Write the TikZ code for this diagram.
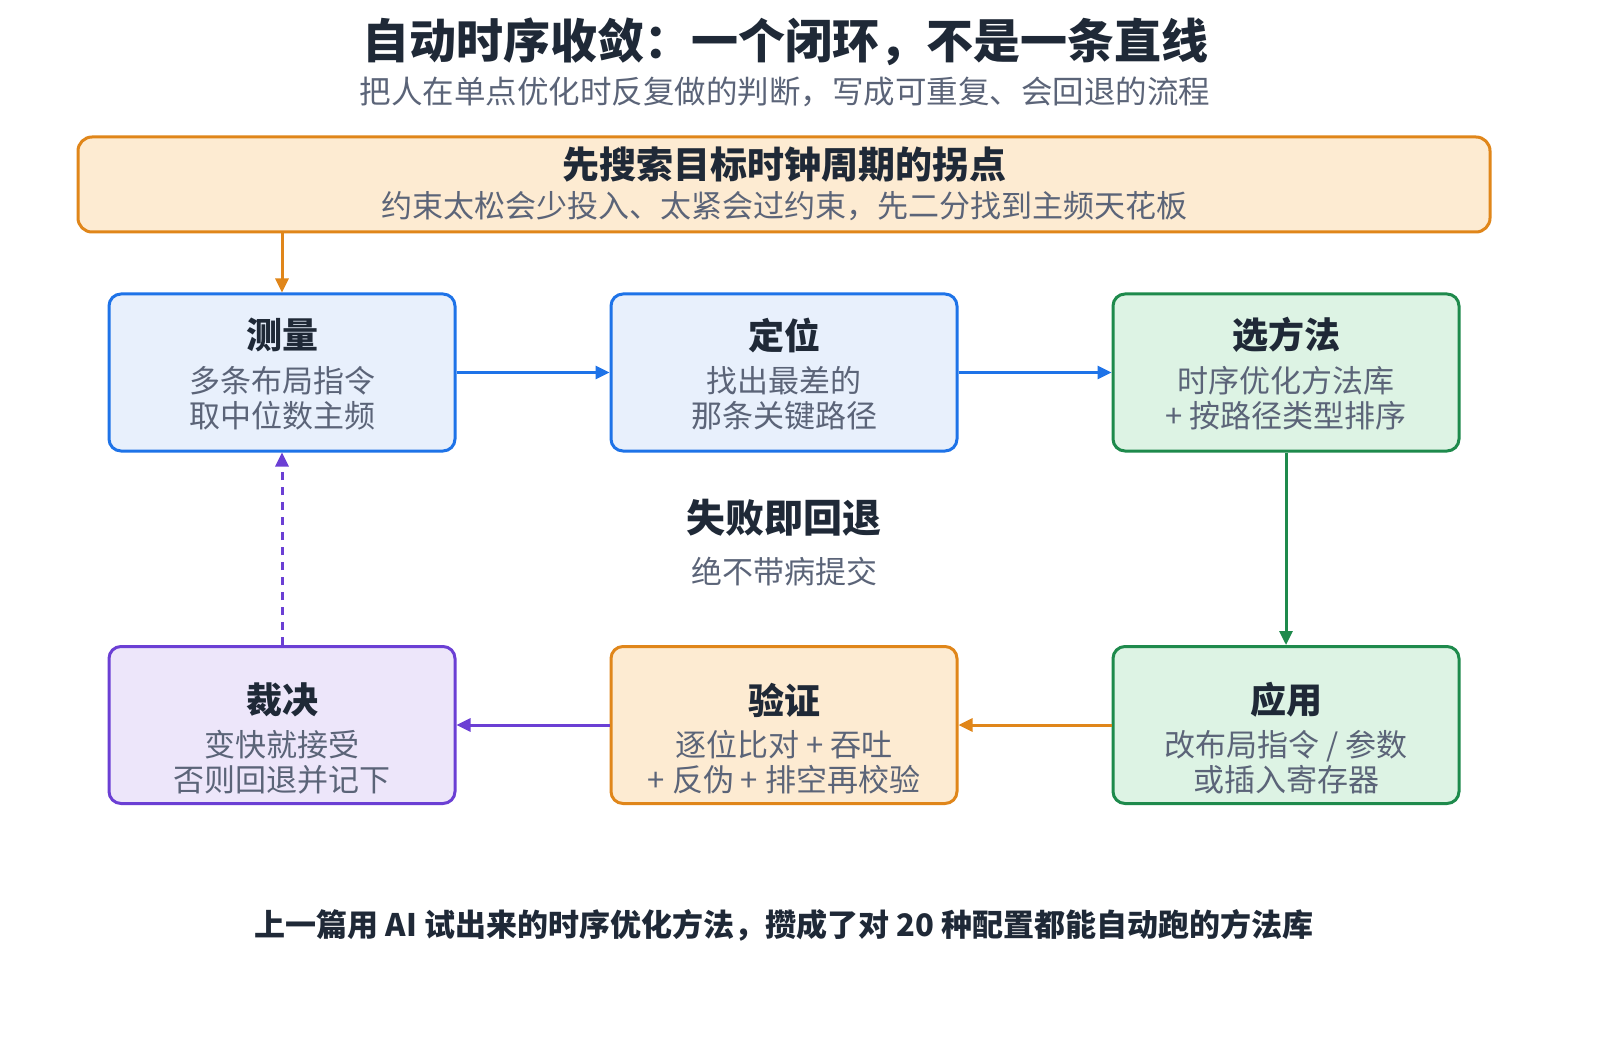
\documentclass[tikz,border=0pt]{standalone}
\usepackage{fontspec}
\setmainfont{Noto Sans CJK SC}
\usetikzlibrary{arrows.meta}
\definecolor{ink}{HTML}{1F2937}
\definecolor{sub}{HTML}{5B6478}
\definecolor{bB}{HTML}{1E73E8}\definecolor{fB}{HTML}{E8F0FC}
\definecolor{bG}{HTML}{1E8A4C}\definecolor{fG}{HTML}{DDF3E4}
\definecolor{bO}{HTML}{E0861A}\definecolor{fO}{HTML}{FDEBD2}
\definecolor{bP}{HTML}{6B3FD4}\definecolor{fP}{HTML}{EDE6FA}
\begin{document}
\begin{tikzpicture}[x=1pt,y=-1pt,
 box/.style={draw=#1,line width=3pt,rounded corners=12pt,minimum width=346pt,minimum height=157pt,inner sep=0pt},
 ttl/.style={text=ink,font=\fontsize{36}{40}\selectfont\bfseries,inner sep=0pt},
 dsc/.style={text=sub,font=\fontsize{31}{35}\selectfont,align=center,inner sep=0pt},
 arr/.style={draw=#1,line width=3pt,-{Triangle[length=14pt,width=13pt]}}]
\useasboundingbox[fill=white] (0,0) rectangle (1600,1040);
\node[text=ink,font=\fontsize{47}{50}\selectfont\bfseries] (title) at (785,42) {自动时序收敛：一个闭环，不是一条直线};
\node[text=sub,font=\fontsize{31.5}{36}\selectfont] (subt) at (785,92) {把人在单点优化时反复做的判断，写成可重复、会回退的流程};
\node[draw=bO,fill=fO,line width=3pt,rounded corners=14pt,minimum width=1412pt,minimum height=95pt] (top) at (784,184.5) {};
\node[ttl,font=\fontsize{37}{40}\selectfont\bfseries] (topt) at (784,165) {先搜索目标时钟周期的拐点};
\node[dsc] (topd) at (784,206) {约束太松会少投入、太紧会过约束，先二分找到主频天花板};
% row 1
\node[box=bB,fill=fB] (m) at (282,372.5) {};
\node[ttl] at (282,335) {测量};
\node[dsc] at (282,398) {多条布局指令\\取中位数主频};
\node[box=bB,fill=fB] (d) at (784,372.5) {};
\node[ttl] at (784,335) {定位};
\node[dsc] at (784,398) {找出最差的\\那条关键路径};
\node[box=bG,fill=fG] (s) at (1286,372.5) {};
\node[ttl] at (1286,335) {选方法};
\node[dsc] at (1286,398) {时序优化方法库\\+ 按路径类型排序};
% row 2
\node[box=bP,fill=fP] (c) at (282,725) {};
\node[ttl] at (282,700) {裁决};
\node[dsc] at (282,762) {变快就接受\\否则回退并记下};
\node[box=bO,fill=fO] (v) at (784,725) {};
\node[ttl] at (784,700) {验证};
\node[dsc] at (784,762) {逐位比对 + 吞吐\\+ 反伪 + 排空再校验};
\node[box=bG,fill=fG] (a) at (1286,725) {};
\node[ttl] at (1286,700) {应用};
\node[dsc] at (1286,762) {改布局指令 / 参数\\或插入寄存器};
% center
\node[ttl,font=\fontsize{39}{42}\selectfont\bfseries] (fail) at (784,518) {失败即回退};
\node[dsc] (fail2) at (784,572) {绝不带病提交};
% arrows
\draw[arr=bO] (top.south -| m) -- (m.north);
\draw[arr=bB] (m) -- (d);
\draw[arr=bB] (d) -- (s);
\draw[arr=bG] (s) -- (a);
\draw[arr=bO] (a) -- (v);
\draw[arr=bP] (v) -- (c);
\draw[arr=bP,dash pattern=on 8pt off 7pt] (c) -- (m);
\node[text=ink,font=\fontsize{31}{34}\selectfont\bfseries] (foot) at (784,925) {上一篇用 AI 试出来的时序优化方法，攒成了对 20 种配置都能自动跑的方法库};
\end{tikzpicture}
\end{document}
